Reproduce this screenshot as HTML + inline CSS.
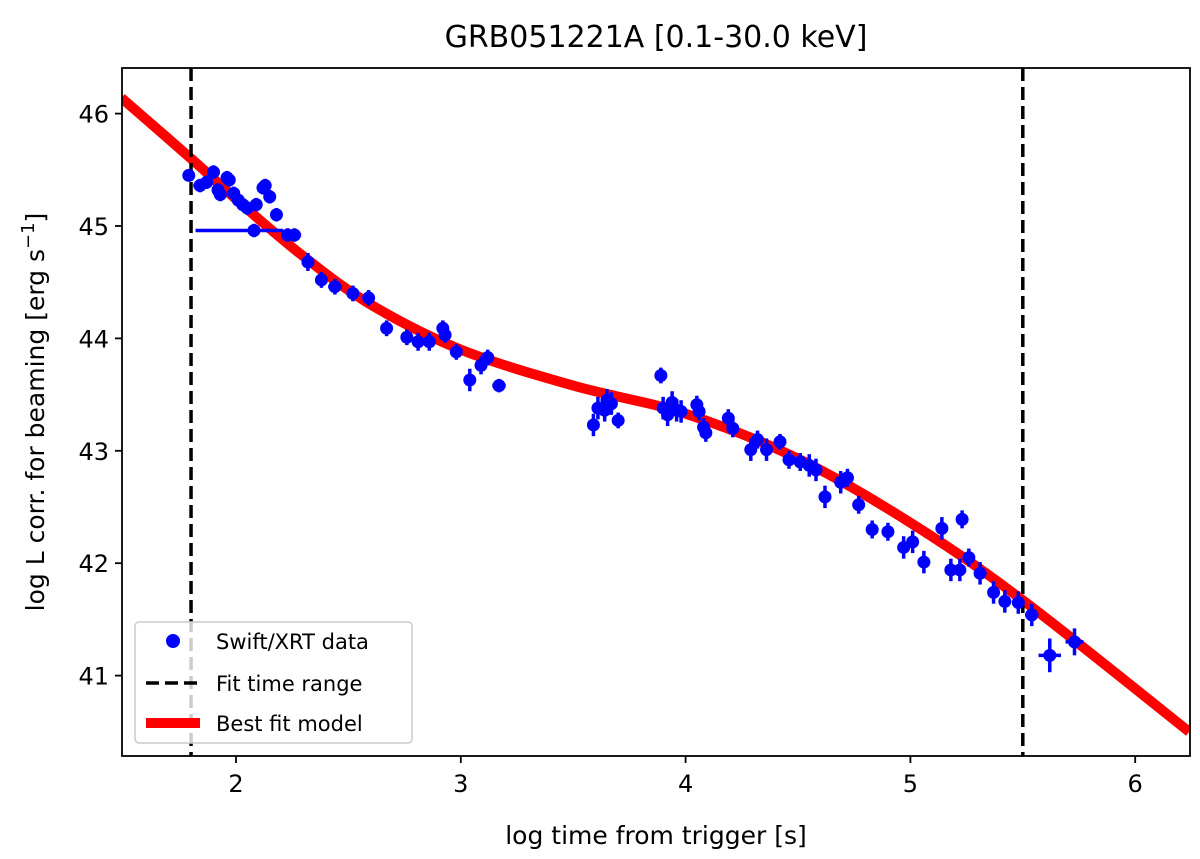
<!DOCTYPE html>
<html><head><meta charset="utf-8"><style>
body{margin:0;background:#fff;}
svg text{font-family:"DejaVu Sans","Liberation Sans",sans-serif;fill:#000;}
</style></head><body>
<svg id="chart" width="1200" height="854" viewBox="0 0 1200 854">
<defs><clipPath id="clip"><rect x="122" y="68" width="1068" height="688"/></clipPath></defs>
<text x="656" y="47" font-size="30" text-anchor="middle">GRB051221A [0.1-30.0 keV]</text>
<g id="plot" clip-path="url(#clip)"></g>
<rect x="122" y="68" width="1068" height="688" fill="none" stroke="#000" stroke-width="1.8"/>
<g id="axes"></g>
<text x="656" y="844" font-size="25" text-anchor="middle">log time from trigger [s]</text>
<text transform="translate(44,412) rotate(-90)" font-size="25" text-anchor="middle">log L corr. for beaming [erg s<tspan baseline-shift="super" font-size="18">−1</tspan>]</text>
<g>
<rect x="135" y="622" width="277" height="121" rx="4" fill="#fff" fill-opacity="0.8" stroke="#ccc" stroke-width="1.5"/>
<circle cx="173" cy="641" r="7" fill="#0000ff"/>
<text x="216" y="649" font-size="21">Swift/XRT data</text>
<line x1="146" y1="683" x2="200" y2="683" stroke="#000" stroke-width="3.5" stroke-dasharray="13,6"/>
<text x="216" y="691" font-size="21">Fit time range</text>
<line x1="146" y1="723" x2="200" y2="723" stroke="#ff0000" stroke-width="10"/>
<text x="216" y="731" font-size="21">Best fit model</text>
</g>
</svg>
<script>
const xTicks=[2,3,4,5,6];
const yTicks=[41,42,43,44,45,46];
const fitRange=[1.8,5.5];
const modelX=[1.49,1.8,2.05,2.3,2.6,3.0,3.5,4.0,4.5,5.0,5.5,6.24];
const modelY=[46.14,45.6,45.15,44.73,44.3,43.9,43.58,43.33,42.93,42.36,41.67,40.5];
const dataX=[1.79,1.84,1.87,1.90,1.92,1.93,1.96,1.97,1.99,2.01,2.03,2.05,2.09,2.12,2.13,2.15,2.18,2.08,2.23,2.26,2.32,2.38,2.44,2.52,2.59,2.67,2.76,2.81,2.86,2.92,2.93,2.98,3.04,3.09,3.12,3.17,3.59,3.61,3.64,3.65,3.67,3.70,3.89,3.90,3.92,3.94,3.96,3.98,4.05,4.06,4.08,4.09,4.19,4.21,4.29,4.32,4.36,4.42,4.46,4.51,4.55,4.58,4.62,4.69,4.72,4.77,4.83,4.90,4.97,5.01,5.06,5.14,5.18,5.22,5.23,5.26,5.31,5.37,5.42,5.48,5.54,5.62,5.73];
const dataY=[45.45,45.36,45.39,45.48,45.32,45.28,45.43,45.41,45.29,45.23,45.19,45.16,45.19,45.34,45.36,45.26,45.10,44.96,44.92,44.92,44.68,44.52,44.46,44.40,44.36,44.09,44.01,43.97,43.97,44.09,44.03,43.88,43.63,43.76,43.83,43.58,43.23,43.38,43.36,43.45,43.42,43.27,43.67,43.38,43.32,43.43,43.36,43.35,43.41,43.35,43.21,43.16,43.29,43.20,43.01,43.10,43.01,43.08,42.92,42.90,42.87,42.83,42.59,42.72,42.76,42.52,42.30,42.28,42.14,42.19,42.01,42.31,41.94,41.94,42.39,42.05,41.91,41.74,41.66,41.65,41.54,41.18,41.30];
const dataXErrLo=[0.01,0.03,0.02,0.02,0.02,0.02,0.02,0.02,0.02,0.02,0.02,0.02,0.02,0.02,0.02,0.02,0.02,0.26,0.02,0.03,0.02,0.02,0.03,0.02,0.02,0.02,0.02,0.02,0.02,0.02,0.02,0.02,0.01,0.02,0.01,0.03,0.01,0.01,0.01,0.01,0.01,0.02,0.01,0.01,0.01,0.01,0.01,0.01,0.01,0.01,0.01,0.01,0.01,0.01,0.01,0.01,0.01,0.01,0.01,0.01,0.01,0.01,0.01,0.01,0.01,0.01,0.01,0.01,0.01,0.01,0.01,0.01,0.01,0.01,0.01,0.01,0.01,0.01,0.01,0.02,0.03,0.05,0.04];
const dataXErrHi=[0.01,0.03,0.02,0.02,0.02,0.02,0.02,0.02,0.02,0.02,0.02,0.02,0.02,0.02,0.02,0.02,0.02,0.13,0.02,0.03,0.02,0.02,0.03,0.02,0.02,0.02,0.02,0.02,0.02,0.02,0.02,0.02,0.01,0.02,0.01,0.03,0.01,0.01,0.01,0.01,0.01,0.02,0.01,0.01,0.01,0.01,0.01,0.01,0.01,0.01,0.01,0.01,0.01,0.01,0.01,0.01,0.01,0.01,0.01,0.01,0.01,0.01,0.01,0.01,0.01,0.01,0.01,0.01,0.01,0.01,0.01,0.01,0.01,0.01,0.01,0.01,0.01,0.01,0.01,0.02,0.03,0.05,0.04];
const dataYErr=[0.05,0.06,0.06,0.06,0.06,0.06,0.06,0.06,0.06,0.06,0.06,0.06,0.06,0.06,0.06,0.06,0.06,0.06,0.06,0.06,0.08,0.07,0.07,0.07,0.07,0.07,0.07,0.08,0.08,0.07,0.07,0.07,0.1,0.08,0.07,0.06,0.1,0.1,0.1,0.1,0.1,0.07,0.07,0.1,0.1,0.1,0.1,0.1,0.08,0.08,0.08,0.08,0.08,0.08,0.1,0.08,0.1,0.07,0.08,0.08,0.1,0.1,0.1,0.1,0.08,0.08,0.08,0.08,0.1,0.1,0.1,0.1,0.1,0.1,0.08,0.08,0.1,0.1,0.1,0.1,0.1,0.15,0.12];
const X=v=>236+(v-2)*224.8;
const Y=v=>226-(v-45)*112.4;
const NS='http://www.w3.org/2000/svg';
const plot=document.getElementById('plot');
const axes=document.getElementById('axes');
function mk(tag,attrs,parent){const e=document.createElementNS(NS,tag);for(const k in attrs)e.setAttribute(k,attrs[k]);parent.appendChild(e);return e;}
// model (smooth Catmull-Rom)
const P=modelX.map((x,i)=>[X(x),Y(modelY[i])]);
let d='M'+P[0][0]+' '+P[0][1];
for(let i=0;i<P.length-1;i++){
const p0=P[Math.max(0,i-1)],p1=P[i],p2=P[i+1],p3=P[Math.min(P.length-1,i+2)];
const c1=[p1[0]+(p2[0]-p0[0])/6,p1[1]+(p2[1]-p0[1])/6];
const c2=[p2[0]-(p3[0]-p1[0])/6,p2[1]-(p3[1]-p1[1])/6];
d+=` C${c1[0]} ${c1[1]} ${c2[0]} ${c2[1]} ${p2[0]} ${p2[1]}`;
}
const model=mk('path',{d:d,fill:'none',stroke:'#ff0000','stroke-width':10,'stroke-linejoin':'round'},plot);


fitRange.forEach((v,i)=>{
const l=mk('line',{x1:X(v),x2:X(v),y1:68,y2:756,stroke:'#000','stroke-width':3.5,'stroke-dasharray':'13,6'},plot);


});
dataX.forEach((x,i)=>{
const g=mk('g',{},plot);


const y=dataY[i],ey=dataYErr[i];
mk('line',{x1:X(x-dataXErrLo[i]),x2:X(x+dataXErrHi[i]),y1:Y(y),y2:Y(y),stroke:'#0000ff','stroke-width':3.5},g);
mk('line',{x1:X(x),x2:X(x),y1:Y(y-ey),y2:Y(y+ey),stroke:'#0000ff','stroke-width':3.5},g);
mk('circle',{cx:X(x),cy:Y(y),r:6.5,fill:'#0000ff'},g);
});
xTicks.forEach(v=>{
mk('line',{x1:X(v),x2:X(v),y1:756,y2:763,stroke:'#000','stroke-width':1.8},axes);
const t=mk('text',{x:X(v),y:792,'font-size':24,'text-anchor':'middle'},axes);t.textContent=v;


});
yTicks.forEach(v=>{
mk('line',{x1:115,x2:122,y1:Y(v),y2:Y(v),stroke:'#000','stroke-width':1.8},axes);
const t=mk('text',{x:109,y:Y(v)+9,'font-size':24,'text-anchor':'end'},axes);t.textContent=v;


});
</script>
</body></html>
